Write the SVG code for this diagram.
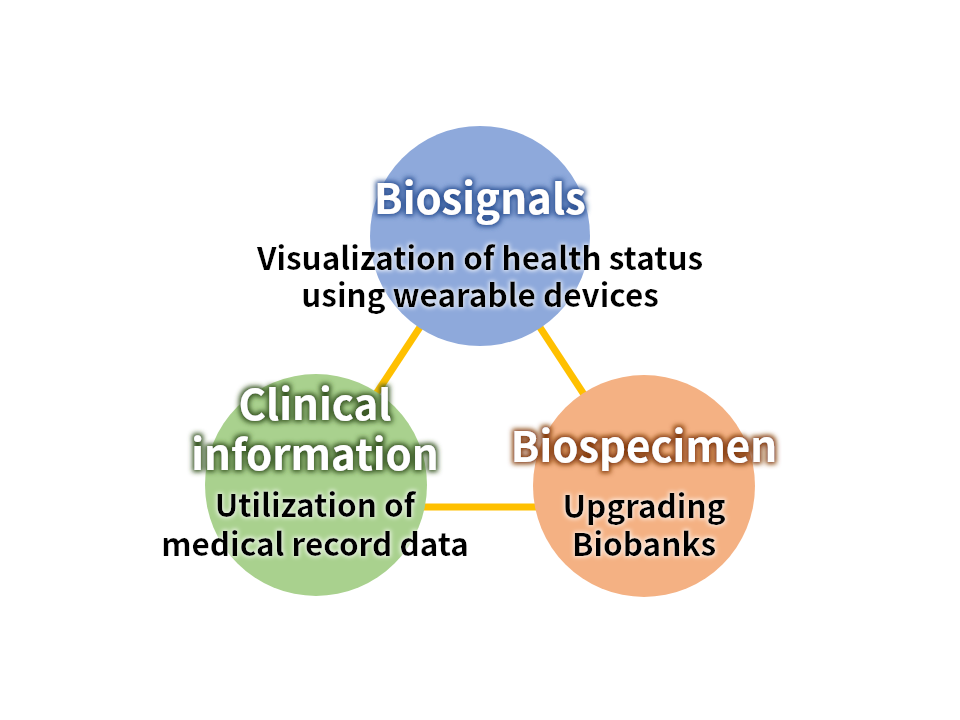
<svg xmlns="http://www.w3.org/2000/svg" width="960" height="720" viewBox="0 0 960 720">
<defs>
<style>
.t{font-family:"Noto Sans CJK JP","Noto Sans",sans-serif;font-weight:bold;text-anchor:middle}
.title{font-size:42px;fill:#ffffff}
.sub{font-size:31.5px;fill:#000000}
.conn{stroke:#FFC000;stroke-width:7;fill:none}
</style>
<filter id="gBlue" x="-20%" y="-40%" width="140%" height="180%">
<feMorphology in="SourceAlpha" operator="dilate" radius="2" result="d"/>
<feGaussianBlur in="d" stdDeviation="2.5" result="b"/>
<feFlood flood-color="#2F5597"/>
<feComposite in2="b" operator="in" result="g"/>
<feMerge><feMergeNode in="g"/><feMergeNode in="SourceGraphic"/></feMerge>
</filter>
<filter id="gGreen" x="-20%" y="-40%" width="140%" height="180%">
<feMorphology in="SourceAlpha" operator="dilate" radius="2" result="d"/>
<feGaussianBlur in="d" stdDeviation="2.5" result="b"/>
<feFlood flood-color="#385723"/>
<feComposite in2="b" operator="in" result="g"/>
<feMerge><feMergeNode in="g"/><feMergeNode in="SourceGraphic"/></feMerge>
</filter>
<filter id="gOrange" x="-20%" y="-40%" width="140%" height="180%">
<feMorphology in="SourceAlpha" operator="dilate" radius="2" result="d"/>
<feGaussianBlur in="d" stdDeviation="2.5" result="b"/>
<feFlood flood-color="#843C0C"/>
<feComposite in2="b" operator="in" result="g"/>
<feMerge><feMergeNode in="g"/><feMergeNode in="SourceGraphic"/></feMerge>
</filter>
<filter id="gWhite" x="-10%" y="-40%" width="120%" height="180%">
<feMorphology in="SourceAlpha" operator="dilate" radius="1" result="d"/>
<feGaussianBlur in="d" stdDeviation="2" result="b"/>
<feFlood flood-color="#ffffff" flood-opacity="0.8"/>
<feComposite in2="b" operator="in" result="g"/>
<feMerge><feMergeNode in="g"/><feMergeNode in="SourceGraphic"/></feMerge>
</filter>
</defs>
<rect width="960" height="720" fill="#ffffff"/>
<g id="connectors">
<line class="conn" x1="480" y1="236" x2="316" y2="485"/>
<line class="conn" x1="480" y1="236" x2="644" y2="486"/>
<line class="conn" x1="316" y1="507" x2="644" y2="507"/>
</g>
<g id="biosignals">
<circle cx="480" cy="236" r="110" fill="#8EA9DB"/>
<text class="t title" x="480" y="214" filter="url(#gBlue)">Biosignals</text>
<text class="t sub" x="480" y="270" filter="url(#gWhite)">Visualization of health status</text>
<text class="t sub" x="480" y="307" filter="url(#gWhite)">using wearable devices</text>
</g>
<g id="clinical">
<circle cx="316" cy="485" r="111" fill="#A9D18E"/>
<text class="t title" x="315" y="420" filter="url(#gGreen)">Clinical</text>
<text class="t title" x="315" y="470" filter="url(#gGreen)">information</text>
<text class="t sub" x="315" y="517" filter="url(#gWhite)">Utilization of</text>
<text class="t sub" x="315" y="556" filter="url(#gWhite)">medical record data</text>
</g>
<g id="biospecimen">
<circle cx="644" cy="486" r="111" fill="#F4B183"/>
<text class="t title" x="644" y="462" filter="url(#gOrange)">Biospecimen</text>
<text class="t sub" x="644" y="518" filter="url(#gWhite)">Upgrading</text>
<text class="t sub" x="644" y="556" filter="url(#gWhite)">Biobanks</text>
</g>
</svg>
